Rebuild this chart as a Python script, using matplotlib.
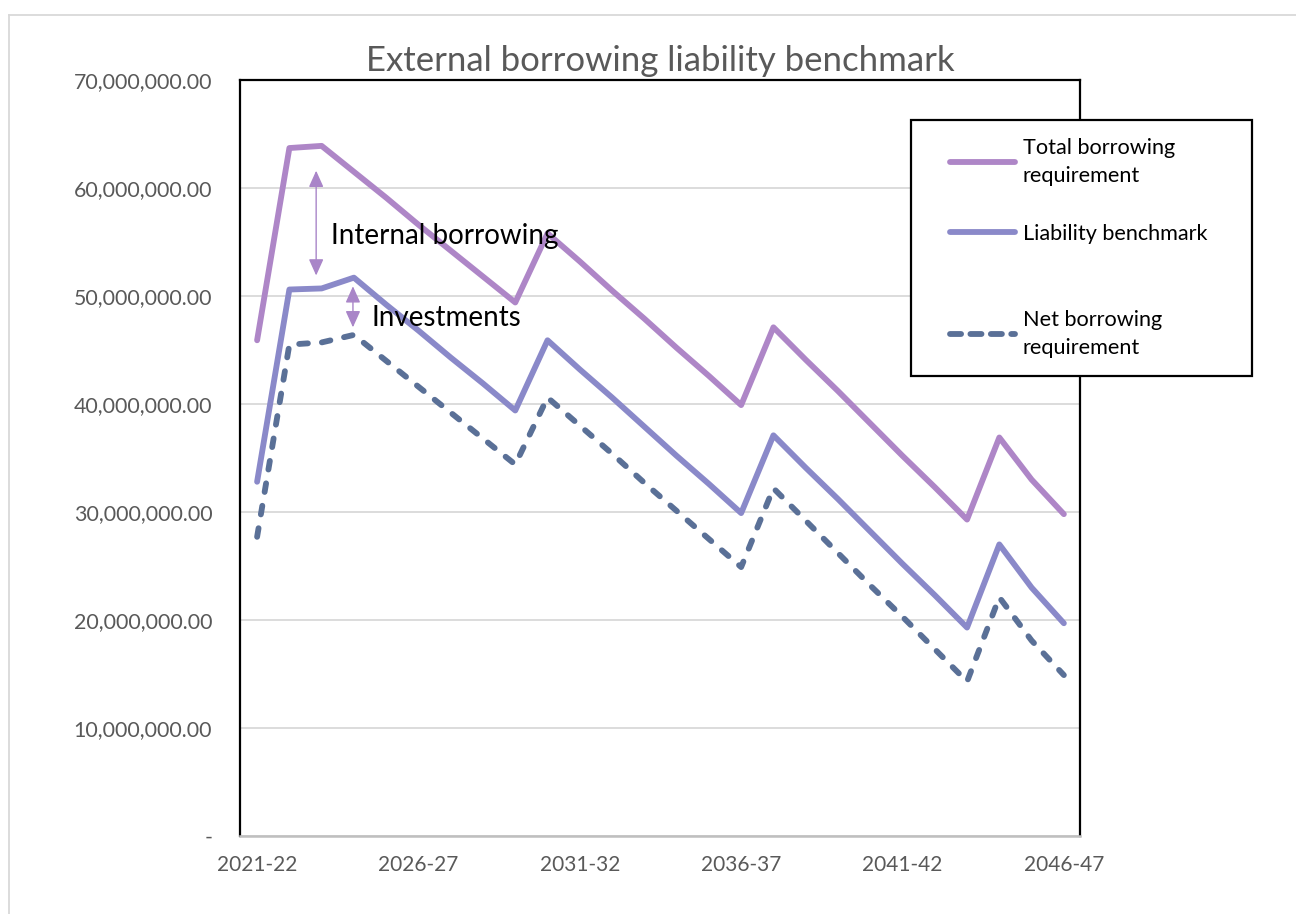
import matplotlib
matplotlib.use("Agg")
import matplotlib.pyplot as plt
from matplotlib.lines import Line2D
from matplotlib.patches import Rectangle
import numpy as np

plt.rcParams['font.family'] = ['Lato', 'DejaVu Sans']

years = ["2021-22", "2022-23", "2023-24", "2024-25", "2025-26", "2026-27", "2027-28",
         "2028-29", "2029-30", "2030-31", "2031-32", "2032-33", "2033-34", "2034-35",
         "2035-36", "2036-37", "2037-38", "2038-39", "2039-40", "2040-41", "2041-42",
         "2042-43", "2043-44", "2044-45", "2045-46", "2046-47"]

total_borrowing = [45.9, 63.7, 63.9, 61.5, 59.1, 56.6, 54.2, 51.8, 49.4, 55.8,
                   53.2, 50.5, 47.9, 45.2, 42.6, 39.9, 47.1, 44.1, 41.2, 38.2,
                   35.2, 32.3, 29.3, 36.9, 33.0, 29.8]
liability_benchmark = [32.8, 50.6, 50.7, 51.7, 49.2, 46.8, 44.3, 41.9, 39.4, 45.9,
                       43.2, 40.6, 37.9, 35.2, 32.6, 29.9, 37.1, 34.1, 31.2, 28.2,
                       25.2, 22.3, 19.3, 27.0, 23.0, 19.7]
net_borrowing = [27.7, 45.5, 45.7, 46.4, 44.0, 41.6, 39.2, 36.8, 34.4, 40.6,
                 38.0, 35.4, 32.7, 30.1, 27.5, 24.9, 32.2, 29.2, 26.2, 23.2,
                 20.3, 17.3, 14.3, 22.1, 18.1, 14.9]

series_labels = ["Total borrowing\nrequirement", "Liability benchmark", "Net borrowing\nrequirement"]
yticks = [0, 10e6, 20e6, 30e6, 40e6, 50e6, 60e6, 70e6]
ytick_labels = ["-", "10,000,000.00", "20,000,000.00", "30,000,000.00", "40,000,000.00",
                "50,000,000.00", "60,000,000.00", "70,000,000.00"]
xtick_idx = [0, 5, 10, 15, 20, 25]

c_total = "#AE86C7"
c_liab = "#8A89C9"
c_net = "#5A7097"
c_arrow = "#A985C8"

W, H = 1296, 914
fig = plt.figure(figsize=(W / 100, H / 100), dpi=100)
ax = fig.add_axes([240 / W, (H - 836) / H, 840 / W, 756 / H])

x = np.arange(len(years))
scale = 1e6
lw = 4.2
ax.plot(x, np.array(total_borrowing) * scale, color=c_total, lw=lw,
        solid_capstyle='round', solid_joinstyle='round', zorder=3)
ax.plot(x, np.array(liability_benchmark) * scale, color=c_liab, lw=lw,
        solid_capstyle='round', solid_joinstyle='round', zorder=3)
ax.plot(x, np.array(net_borrowing) * scale, color=c_net, lw=lw,
        linestyle=(0, (1.5, 2.4)), dash_capstyle='round', dash_joinstyle='round', zorder=3)

ax.set_xlim(-0.53, 25.5)
ax.set_ylim(0, 70e6)
ax.set_yticks(yticks)
ax.set_yticklabels(ytick_labels)
ax.set_xticks(xtick_idx)
ax.set_xticklabels([years[i] for i in xtick_idx])
ax.tick_params(axis='y', length=0, pad=20, labelsize=15.4, labelcolor="#595959")
ax.tick_params(axis='x', length=0, pad=14, labelsize=15, labelcolor="#595959")
ax.grid(axis='y', color="#D9D9D9", lw=1.3, zorder=0)
ax.set_axisbelow(True)
for s in ['left', 'top', 'right']:
    ax.spines[s].set_color("black")
    ax.spines[s].set_linewidth(1.6)
ax.spines['bottom'].set_color("#BFBFBF")
ax.spines['bottom'].set_linewidth(1.8)

# annotations
arrow_kw = dict(arrowstyle="<|-|>,head_length=1.0,head_width=0.45", color=c_arrow, lw=1.0,
                shrinkA=0, shrinkB=0)
ax.annotate("", xy=(1.83, 61.6e6), xytext=(1.83, 51.9e6), arrowprops=arrow_kw, zorder=4)
ax.annotate("", xy=(2.97, 50.9e6), xytext=(2.97, 47.1e6), arrowprops=arrow_kw, zorder=4)
ax.text(2.3, 55.6e6, "Internal borrowing", fontsize=20, color="black", va='center', ha='left', zorder=5)
ax.text(3.53, 48.0e6, "Investments", fontsize=20, color="black", va='center', ha='left', zorder=5)

# title
fig.text(660 / W, 1 - 61 / H, "External borrowing liability benchmark", fontsize=25,
         color="#595959", ha='center', va='center')

# legend box
fig.patches.append(Rectangle((911 / W, 1 - 376 / H), 341 / W, 256 / H, transform=fig.transFigure,
                             facecolor='white', edgecolor='black', lw=1.6, zorder=10))
entries = [(c_total, '-', series_labels[0], 162),
           (c_liab, '-', series_labels[1], 234),
           (c_net, (0, (1.9, 1.6)), series_labels[2], 334)]
for col, ls, lab, yc in entries:
    h = Line2D([], [], color=col, lw=lw, linestyle=ls, solid_capstyle='round', dash_capstyle='round')
    leg = fig.legend([h], [lab], loc='center left', bbox_to_anchor=(950 / W, 1 - yc / H),
                     frameon=False, fontsize=15.6, handlelength=3.0, handletextpad=0.35,
                     borderaxespad=0, borderpad=0)
    leg.set_zorder(11)
    for t in leg.get_texts():
        t.set_linespacing(1.55)

# outer chart border
fig.add_artist(Line2D([9 / W, 9 / W], [0, 1 - 15 / H], color="#D9D9D9", lw=1.3, transform=fig.transFigure))
fig.add_artist(Line2D([9 / W, 1], [1 - 15 / H, 1 - 15 / H], color="#D9D9D9", lw=1.3, transform=fig.transFigure))

fig.savefig("out.png", dpi=100, facecolor='white')
